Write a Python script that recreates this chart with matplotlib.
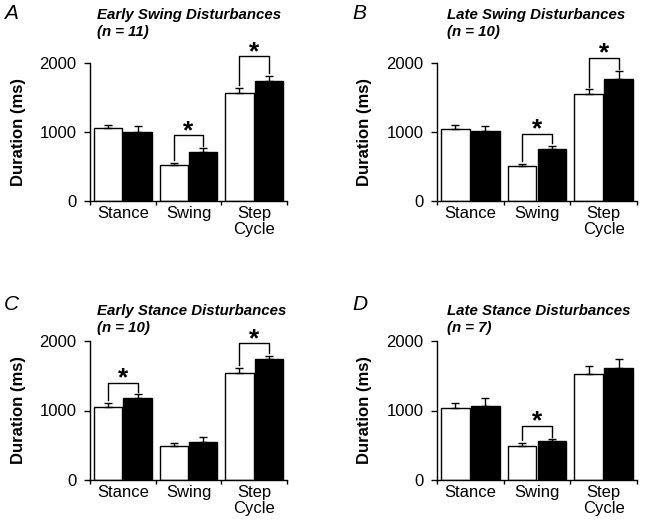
import numpy as np
import matplotlib.pyplot as plt

plt.rcParams['font.family'] = ['Liberation Sans', 'DejaVu Sans']

categories = ['Stance', 'Swing', 'Step\nCycle']
panel_letters = ['A', 'B', 'C', 'D']
titles = ['Early Swing Disturbances', 'Late Swing Disturbances',
          'Early Stance Disturbances', 'Late Stance Disturbances']
n_labels = ['(n = 11)', '(n = 10)', '(n = 10)', '(n = 7)']

# control (white) and disturbed (black) means and SEM
ctrl_mean = [[1056, 523, 1564], [1041, 513, 1550], [1055, 494, 1535], [1041, 494, 1525]]
ctrl_err = [[48, 30, 78], [63, 25, 72], [58, 43, 81], [72, 43, 115]]
dist_mean = [[1007, 717, 1734], [1012, 755, 1772], [1175, 552, 1736], [1070, 566, 1616]]
dist_err = [[83, 48, 82], [78, 49, 107], [58, 62, 53], [105, 24, 120]]

# significance brackets: (category index, bracket height)
sig = [[(1, 950), (2, 2095)], [(1, 968), (2, 2073)], [(0, 1400), (2, 1966)], [(1, 782)]]

W, H = 645, 521
fig = plt.figure(figsize=(W / 100, H / 100), dpi=100)

# layout in pixels: axes left, axes right, y of 2000, y of 0, title x/y, letter x/y
ax_px = [(90, 287, 63, 201), (437, 637, 63, 201), (90, 287, 341, 480), (437, 637, 341, 480)]
title_px = [(97, 8), (447, 8), (97, 304), (447, 304)]
letter_px = [(4, 4), (352, 4), (4, 295), (352, 295)]

x = np.arange(len(categories))
bw = 0.43
off = 0.225

for i in range(4):
    l, r, t, b = ax_px[i]
    ax = fig.add_axes([l / W, 1 - b / H, (r - l) / W, (b - t) / H])
    ax.bar(x - off, ctrl_mean[i], bw, color='white', edgecolor='black', linewidth=1)
    ax.bar(x + off, dist_mean[i], bw, color='black', edgecolor='black', linewidth=1)
    ax.errorbar(x - off, ctrl_mean[i], yerr=[np.zeros(3), ctrl_err[i]], fmt='none',
                ecolor='black', elinewidth=1, capsize=3.2, capthick=1)
    ax.errorbar(x + off, dist_mean[i], yerr=[np.zeros(3), dist_err[i]], fmt='none',
                ecolor='black', elinewidth=1, capsize=3.2, capthick=1)
    ax.set_xlim(-0.5, 2.5)
    ax.set_ylim(0, 2000)
    ax.set_yticks([0, 1000, 2000])
    ax.set_xticks([-0.5, 0.5, 1.5, 2.5])
    ax.set_xticklabels([])
    ax.set_xticks(x, minor=True)
    ax.set_xticklabels(categories, minor=True, fontsize=12, linespacing=1.1)
    ax.tick_params(axis='x', which='major', direction='out', length=3, width=1)
    ax.tick_params(axis='x', which='minor', length=0, pad=3.5)
    ax.tick_params(axis='y', direction='out', length=4.3, width=1, labelsize=12, pad=5.5)
    for s in ['top', 'right']:
        ax.spines[s].set_visible(False)
    ax.spines['left'].set_linewidth(1)
    ax.spines['bottom'].set_linewidth(1)
    ax.set_ylabel('Duration (ms)', fontsize=12, fontweight='bold')
    ax.yaxis.set_label_coords(-0.325, 0.5)
    tx, ty = title_px[i]
    fig.text(tx / W, 1 - ty / H, titles[i], fontsize=10.8, fontweight='bold',
             fontstyle='italic', va='top', ha='left')
    fig.text(tx / W, 1 - (ty + 17) / H, n_labels[i], fontsize=10.8, fontweight='bold',
             fontstyle='italic', va='top', ha='left')
    lx, ly = letter_px[i]
    fig.text(lx / W, 1 - ly / H, panel_letters[i], fontsize=15, fontstyle='italic',
             va='top', ha='left')
    for c, yb in sig[i]:
        x0 = c - off
        x1 = c + off
        y0 = ctrl_mean[i][c] + ctrl_err[i][c] + 35
        y1 = dist_mean[i][c] + dist_err[i][c] + 35
        ax.plot([x0, x0, x1, x1], [y0, yb, yb, y1], color='black', lw=1, clip_on=False)
        ax.annotate('*', (c, yb), xytext=(0, -1.8), textcoords='offset points',
                    ha='center', va='baseline', fontsize=19, fontweight='bold',
                    annotation_clip=False)

fig.savefig('out.png', dpi=100)
